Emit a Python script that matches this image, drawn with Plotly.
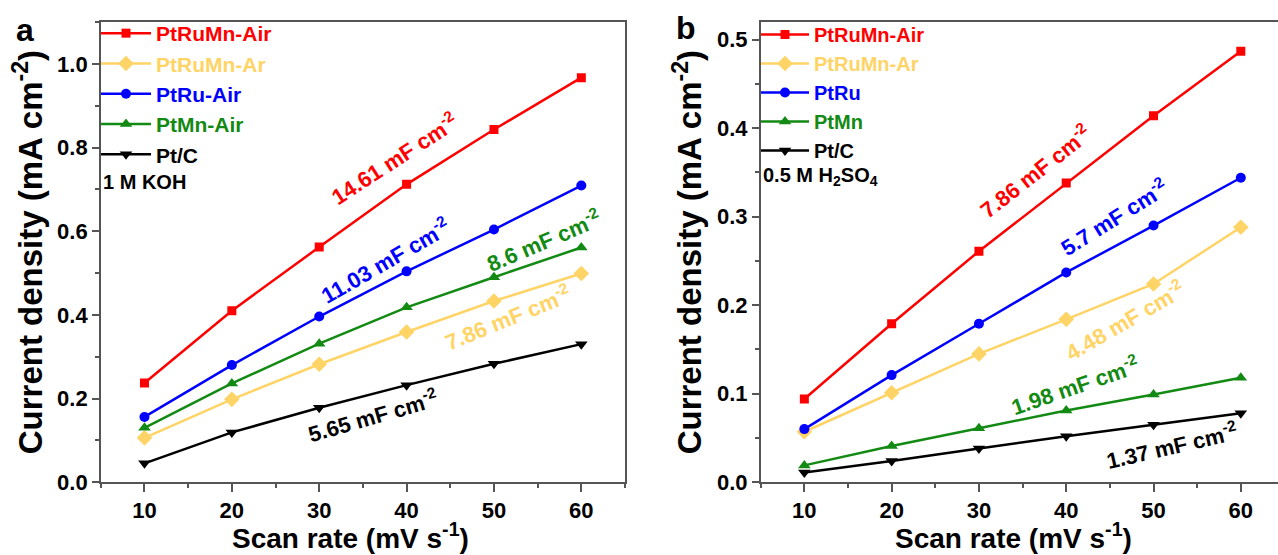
import plotly.graph_objects as go

# ---------------- data ----------------
scan_rate = [10, 20, 30, 40, 50, 60]

# panel a (1 M KOH)
a_names = ["PtRuMn-Air", "PtRuMn-Ar", "PtRu-Air", "PtMn-Air", "Pt/C"]
a_ptrumn_air = [0.237, 0.410, 0.562, 0.712, 0.843, 0.967]
a_ptrumn_ar = [0.106, 0.198, 0.282, 0.359, 0.433, 0.499]
a_ptru_air = [0.156, 0.280, 0.396, 0.504, 0.604, 0.709]
a_ptmn_air = [0.130, 0.236, 0.331, 0.418, 0.490, 0.561]
a_ptc = [0.045, 0.119, 0.178, 0.232, 0.283, 0.330]

# panel b (0.5 M H2SO4)
b_names = ["PtRuMn-Air", "PtRuMn-Ar", "PtRu", "PtMn", "Pt/C"]
b_ptrumn_air = [0.094, 0.179, 0.261, 0.338, 0.414, 0.487]
b_ptrumn_ar = [0.057, 0.101, 0.145, 0.184, 0.224, 0.288]
b_ptru = [0.060, 0.121, 0.179, 0.237, 0.290, 0.344]
b_ptmn = [0.019, 0.041, 0.061, 0.081, 0.099, 0.118]
b_ptc = [0.011, 0.024, 0.038, 0.052, 0.065, 0.078]

# double-layer capacitance labels (mF cm-2)
a_labels = ["14.61", "11.03", "8.6", "7.86", "5.65"]
b_labels = ["7.86", "5.7", "4.48", "1.98", "1.37"]

x_ticks = [10, 20, 30, 40, 50, 60]

# ---------------- style ----------------
RED, YEL, BLU, GRN, BLK = "#FF0000", "#FFD466", "#0000FF", "#138A13", "#000000"
colors = [RED, YEL, BLU, GRN, BLK]
a_label_colors = [RED, BLU, GRN, YEL, BLK]
b_label_colors = [RED, BLU, YEL, GRN, BLK]
symbols = ["square", "diamond", "circle", "triangle-up", "triangle-down"]
msizes = [9, 12, 10, 11, 11]
FONT = "Liberation Sans"
W, H = 1278, 555
AX = "#555555"

fig = go.Figure()

a_series = [a_ptrumn_air, a_ptrumn_ar, a_ptru_air, a_ptmn_air, a_ptc]
b_series = [b_ptrumn_air, b_ptrumn_ar, b_ptru, b_ptmn, b_ptc]

for i, (nm, ys) in enumerate(zip(a_names, a_series)):
    fig.add_trace(go.Scatter(
        x=scan_rate, y=ys, mode="lines+markers",
        name=f"<span style='color:{colors[i]}'>{nm}</span>",
        line=dict(color=colors[i], width=2.5),
        marker=dict(symbol=symbols[i], size=msizes[i], color=colors[i]),
        xaxis="x", yaxis="y", legend="legend"))

for i, (nm, ys) in enumerate(zip(b_names, b_series)):
    fig.add_trace(go.Scatter(
        x=scan_rate, y=ys, mode="lines+markers",
        name=f"<span style='color:{colors[i]}'>{nm}</span>",
        line=dict(color=colors[i], width=2.5),
        marker=dict(symbol=symbols[i], size=msizes[i], color=colors[i]),
        xaxis="x2", yaxis="y2", legend="legend2"))

ydom = [(H - 482.2) / H, (H - 22) / H]

xcommon = dict(
    tickvals=x_ticks, ticks="outside", ticklen=8, tickwidth=1.5, tickcolor=AX,
    showline=True, linecolor=AX, linewidth=1.5, mirror=True, automargin=False,
    showgrid=False, zeroline=False,
    minor=dict(dtick=5, tick0=0, ticks="outside", ticklen=4, tickwidth=1.5, tickcolor=AX),
    tickfont=dict(family=FONT, size=22, color="black", weight="bold"),
)
ycommon = dict(
    ticks="outside", ticklen=7, tickwidth=1.5, tickcolor=AX,
    showline=True, linecolor=AX, linewidth=1.5, automargin=False,
    showgrid=False, zeroline=False, tickformat=".1f",
    tickfont=dict(family=FONT, size=22, color="black", weight="bold"),
    title=dict(text="Current density (mA cm<sup>-2</sup>)", standoff=5,
               font=dict(family=FONT, size=33, color="black", weight="bold")),
)

fig.update_layout(
    width=W, height=H, margin=dict(l=0, r=0, t=0, b=0, autoexpand=False),
    paper_bgcolor="white", plot_bgcolor="white",
    xaxis=dict(domain=[100.8 / W, 625 / W], range=[5, 65], anchor="y", **xcommon),
    yaxis=dict(domain=ydom, range=[0, 1.1], dtick=0.2, anchor="x", mirror=True,
               minor=dict(dtick=0.1, ticks="outside", ticklen=4, tickwidth=1.5, tickcolor=AX),
               **ycommon),
    xaxis2=dict(domain=[760.7 / W, 1.0], range=[5, 64.26], anchor="y2", **xcommon),
    yaxis2=dict(domain=ydom, range=[0, 0.52], dtick=0.1, anchor="x2", mirror=False,
                minor=dict(dtick=0.05, ticks="outside", ticklen=4, tickwidth=1.5, tickcolor=AX),
                **ycommon),
    legend=dict(x=96 / W, y=(H - 13) / H, xanchor="left", yanchor="top",
                bgcolor="rgba(0,0,0,0)", tracegroupgap=0, itemwidth=50,
                font=dict(family=FONT, size=21, color="black", weight="bold")),
    legend2=dict(x=756 / W, y=(H - 15) / H, xanchor="left", yanchor="top",
                 bgcolor="rgba(0,0,0,0)", tracegroupgap=0, itemwidth=48,
                 font=dict(family=FONT, size=20, color="black", weight="bold")),
    showlegend=True,
)

# x-axis titles
for xc in (350, 1013):
    fig.add_annotation(x=xc / W, y=(H - 536) / H, xref="paper", yref="paper",
                       xanchor="center", yanchor="middle",
                       text="Scan rate (mV s<sup>-1</sup>)", showarrow=False,
                       font=dict(family=FONT, size=28, color="black", weight="bold"))

# slope annotations: (x, y, angle) in data units
a_pos = [(38.6, 0.775, -33), (37.6, 0.53, -30), (55.7, 0.578, -23), (51.6, 0.394, -22), (36.2, 0.160, -16)]
b_pos = [(36.4, 0.352, -38), (45.4, 0.300, -32), (46.7, 0.183, -30), (41.0, 0.110, -19), (52.1, 0.042, -13)]

for i, (lab, (x, y, ang)) in enumerate(zip(a_labels, a_pos)):
    fig.add_annotation(x=x, y=y, xref="x", yref="y", text=f"{lab} mF cm<sup>-2</sup>",
                       textangle=ang, showarrow=False, xanchor="center", yanchor="middle",
                       font=dict(family=FONT, size=22, color=a_label_colors[i], weight="bold"))
for i, (lab, (x, y, ang)) in enumerate(zip(b_labels, b_pos)):
    fig.add_annotation(x=x, y=y, xref="x2", yref="y2", text=f"{lab} mF cm<sup>-2</sup>",
                       textangle=ang, showarrow=False, xanchor="center", yanchor="middle",
                       font=dict(family=FONT, size=22, color=b_label_colors[i], weight="bold"))

# electrolyte labels
fig.add_annotation(x=101 / W, y=(H - 182) / H, xref="paper", yref="paper",
                   xanchor="left", yanchor="middle",
                   text="1 M KOH", showarrow=False,
                   font=dict(family=FONT, size=20, color="black", weight="bold"))
fig.add_annotation(x=761 / W, y=(H - 177) / H, xref="paper", yref="paper",
                   xanchor="left", yanchor="middle",
                   text="0.5 M H<sub>2</sub>SO<sub>4</sub>", showarrow=False,
                   font=dict(family=FONT, size=20, color="black", weight="bold"))

# panel letters
fig.add_annotation(x=25 / W, y=(H - 30) / H, xref="paper", yref="paper",
                   xanchor="center", yanchor="middle",
                   text="a", showarrow=False,
                   font=dict(family=FONT, size=32, color="black", weight="bold"))
fig.add_annotation(x=686 / W, y=(H - 28) / H, xref="paper", yref="paper",
                   xanchor="center", yanchor="middle",
                   text="b", showarrow=False,
                   font=dict(family=FONT, size=32, color="black", weight="bold"))

fig.write_html("out.html")
